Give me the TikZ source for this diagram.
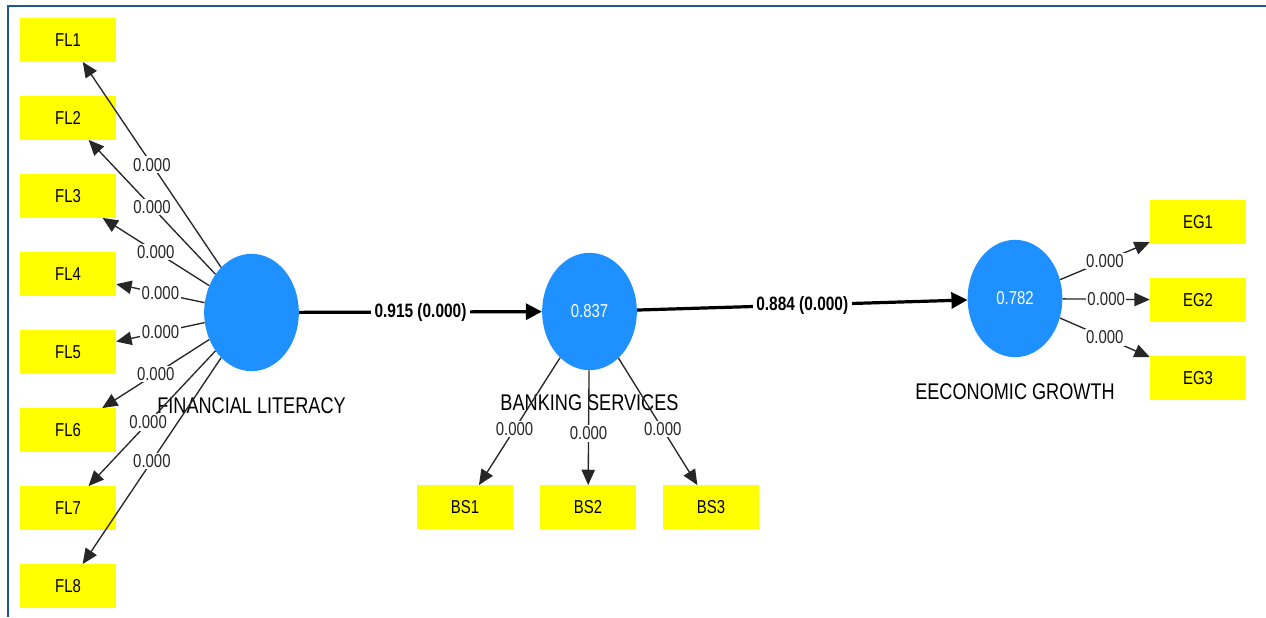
\documentclass[tikz,border=0pt]{standalone}
\usepackage{fontspec}
\setmainfont[FakeStretch=0.8]{Liberation Sans}
\usetikzlibrary{arrows.meta,shapes.geometric}
\definecolor{indy}{RGB}{255,255,0}
\definecolor{lv}{RGB}{30,144,255}
\definecolor{framec}{RGB}{30,85,150}
\begin{document}
\begin{tikzpicture}[x=0.75pt,y=-0.75pt,
  indbox/.style={fill=indy, draw=none, minimum width=72pt, minimum height=32.5pt, inner sep=0pt, font=\fontsize{14}{14}\selectfont},
  lat/.style={ellipse, fill=lv, draw=none, minimum width=71pt, minimum height=88pt, inner sep=0pt, text=white, font=\fontsize{14}{14}\selectfont},
  ttl/.style={font=\fontsize{17}{17}\selectfont, inner sep=0pt},
  load/.style={draw=black!85, line width=1pt, -{Triangle[length=11.5pt,width=10pt]}},
  pathc/.style={draw=black, line width=2.4pt, -{Triangle[length=12pt,width=12pt]}},
  lbl/.style={fill=white, inner sep=1.2pt, font=\fontsize{14}{14}\selectfont, text=black!85},
  plbl/.style={fill=white, inner sep=2.5pt, font=\bfseries\fontsize{14.5}{14.5}\selectfont}
]
\useasboundingbox (0,0) rectangle (1266,617);
\fill[white] (0,0) rectangle (1266,617);
\draw[framec, line width=2pt] (1266,6) -- (8,6) -- (8,617);

% indicator boxes
\foreach \i/\y in {1/40,2/118,3/196,4/274,5/352,6/430,7/508,8/586}
  \node[indbox] (fl\i) at (68,\y) {FL\i};
\node[indbox] (bs1) at (465,507) {BS1};
\node[indbox] (bs2) at (588,507) {BS2};
\node[indbox] (bs3) at (711,507) {BS3};
\node[indbox] (eg1) at (1198,222) {EG1};
\node[indbox] (eg2) at (1198,300) {EG2};
\node[indbox] (eg3) at (1198,378) {EG3};

% latent variables
\node[lat] (fl) at (251.5,312.5) {};
\node[lat] (bs) at (589.5,311.5) {0.837};
\node[lat] (eg) at (1015,298.5) {0.782};

% titles
\node[ttl] (flt) at (251.5,406) {FINANCIAL LITERACY};
\node[ttl] (bst) at (589.5,403) {BANKING SERVICES};
\node[ttl] (egt) at (1015,392) {EECONOMIC GROWTH};

% loadings
\foreach \i/\p in {1/0.5,2/0.5,3/0.5,4/0.5,5/0.5,6/0.5,7/0.53,8/0.5}
  \draw[load] (fl) -- node[lbl, pos=\p] {0.000} (fl\i);
\draw[load] (bs) -- node[lbl, pos=0.56] {0.000} (bs1);
\draw[load] (bs) -- node[lbl, pos=0.55] {0.000} (bs2);
\draw[load] (bs) -- node[lbl, pos=0.56] {0.000} (bs3);
\foreach \i in {1,2,3}
  \draw[load] (eg) -- node[lbl] {0.000} (eg\i);

% paths
\draw[pathc] (fl) -- node[plbl] {0.915 (0.000)} (bs);
\draw[pathc] (bs) -- node[plbl] {0.884 (0.000)} (eg);
\end{tikzpicture}
\end{document}
